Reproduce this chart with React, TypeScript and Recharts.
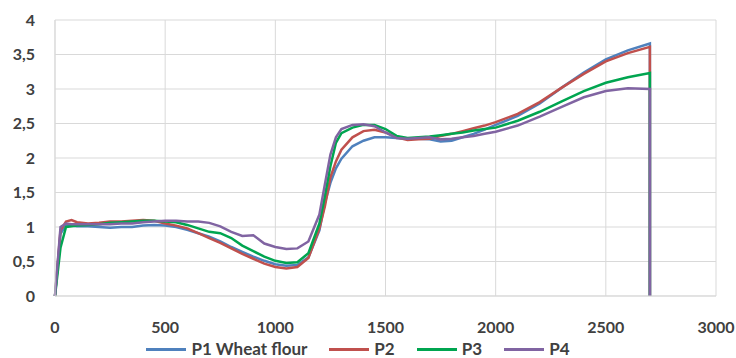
import { CartesianGrid, Legend, Line, LineChart, XAxis, YAxis } from 'recharts';

// time axis (last point repeated: every curve drops to 0 at the end)
const xs = [
  0, 25, 50, 75, 100, 150, 200, 250, 300, 350, 400, 450, 500, 550, 600, 650, 700, 750, 800, 850,
  900, 950, 1000, 1050, 1100, 1150, 1200, 1225, 1250, 1275, 1300, 1350, 1400, 1450, 1500, 1550,
  1600, 1650, 1700, 1750, 1800, 1850, 1900, 1950, 2000, 2100, 2200, 2300, 2400, 2500, 2600, 2700,
  2700,
];

const p1 = [
  0, 0.9, 1.03, 1.02, 1.01, 1.01, 1.0, 0.99, 1.0, 1.0, 1.02, 1.03, 1.02, 1.0, 0.96, 0.91, 0.86,
  0.79, 0.71, 0.64, 0.57, 0.51, 0.46, 0.44, 0.45, 0.56, 0.95, 1.35, 1.64, 1.85, 1.99, 2.17, 2.25,
  2.3, 2.3, 2.29, 2.28, 2.28, 2.27, 2.24, 2.25, 2.3, 2.35, 2.41, 2.48, 2.61, 2.79, 3.02, 3.24, 3.43,
  3.56, 3.66, 0,
];

const p2 = [
  0, 0.95, 1.08, 1.1, 1.07, 1.05, 1.06, 1.08, 1.08, 1.09, 1.1, 1.09, 1.05, 1.02, 0.98, 0.91, 0.84,
  0.77, 0.69, 0.61, 0.54, 0.47, 0.42, 0.4, 0.42, 0.55, 0.98, 1.3, 1.72, 1.95, 2.12, 2.3, 2.39, 2.41,
  2.37, 2.3, 2.26, 2.27, 2.28, 2.32, 2.35, 2.39, 2.43, 2.47, 2.52, 2.64, 2.81, 3.02, 3.22, 3.4,
  3.52, 3.61, 0,
];

const p3 = [
  0, 0.7, 1.0, 1.01, 1.02, 1.03, 1.04, 1.06, 1.07, 1.08, 1.09, 1.09, 1.08, 1.07, 1.03, 0.98, 0.93,
  0.91, 0.84, 0.73, 0.65, 0.57, 0.51, 0.48, 0.49, 0.62, 1.05, 1.45, 1.88, 2.22, 2.36, 2.44, 2.48,
  2.48, 2.42, 2.32, 2.29, 2.3, 2.31, 2.33, 2.35, 2.37, 2.4, 2.42, 2.44, 2.54, 2.67, 2.82, 2.97, 3.09,
  3.17, 3.23, 0,
];

const p4 = [
  0, 1.0, 1.05, 1.04, 1.04, 1.04, 1.04, 1.04, 1.05, 1.05, 1.07, 1.08, 1.09, 1.09, 1.08, 1.08, 1.06,
  1.01, 0.93, 0.87, 0.88, 0.76, 0.71, 0.68, 0.69, 0.79, 1.18, 1.62, 2.05, 2.3, 2.42, 2.48, 2.49,
  2.46, 2.37, 2.29, 2.28, 2.29, 2.3, 2.27, 2.28, 2.3, 2.32, 2.35, 2.38, 2.47, 2.6, 2.74, 2.88, 2.97,
  3.01, 3.0, 0,
];

const xTicks = [0, 500, 1000, 1500, 2000, 2500, 3000];
const yTicks = [0, 0.5, 1, 1.5, 2, 2.5, 3, 3.5, 4];

const series = [
  { key: 'p1', name: 'P1 Wheat flour', color: '#4f81bd' },
  { key: 'p2', name: 'P2', color: '#c0504d' },
  { key: 'p3', name: 'P3', color: '#00a550' },
  { key: 'p4', name: 'P4', color: '#8064a2' },
];

const data = xs.map((x, i) => ({ x, p1: p1[i], p2: p2[i], p3: p3[i], p4: p4[i] }));

const FONT = 'Lato, "Open Sans", sans-serif';
const TEXT = '#404040';
const GRID = '#d9d9d9';

const renderLegend = (props: any) => {
  const items = props.payload ?? [];
  return (
    <div
      style={{
        display: 'flex',
        justifyContent: 'center',
        gap: 22,
        height: 18,
        lineHeight: '18px',
        fontFamily: FONT,
        fontWeight: 700,
        fontSize: 17,
        color: TEXT,
      }}
    >
      {items.map((item: any) => (
        <div key={item.value} style={{ display: 'flex', alignItems: 'center' }}>
          <span style={{ width: 40, height: 3, background: item.color, marginRight: 5 }} />
          <span>{item.value}</span>
        </div>
      ))}
    </div>
  );
};

export default function App() {
  return (
    <div style={{ position: 'absolute', left: 0, top: 0, width: 736, height: 358, background: '#fff' }}>
      <LineChart width={736} height={358} data={data} margin={{ top: 20, right: 20, left: 0, bottom: 0 }}>
        <CartesianGrid stroke={GRID} strokeWidth={1} />
        <XAxis
          dataKey="x"
          type="number"
          domain={[0, 3000]}
          ticks={xTicks}
          height={44}
          axisLine={{ stroke: GRID }}
          tickLine={false}
          tickMargin={20}
          tick={{ fill: TEXT, fontSize: 16, fontWeight: 700, fontFamily: FONT }}
        />
        <YAxis
          type="number"
          domain={[0, 4]}
          ticks={yTicks}
          width={55}
          axisLine={{ stroke: GRID }}
          tickLine={false}
          tickMargin={14}
          tickFormatter={(v: number) => String(v).replace('.', ',')}
          tick={{ fill: TEXT, fontSize: 16, fontWeight: 700, fontFamily: FONT }}
        />
        <Legend verticalAlign="bottom" content={renderLegend} />
        {series.map((s) => (
          <Line
            key={s.key}
            type="linear"
            dataKey={s.key}
            name={s.name}
            stroke={s.color}
            strokeWidth={2.5}
            dot={false}
            activeDot={false}
            isAnimationActive={false}
          />
        ))}
      </LineChart>
    </div>
  );
}
